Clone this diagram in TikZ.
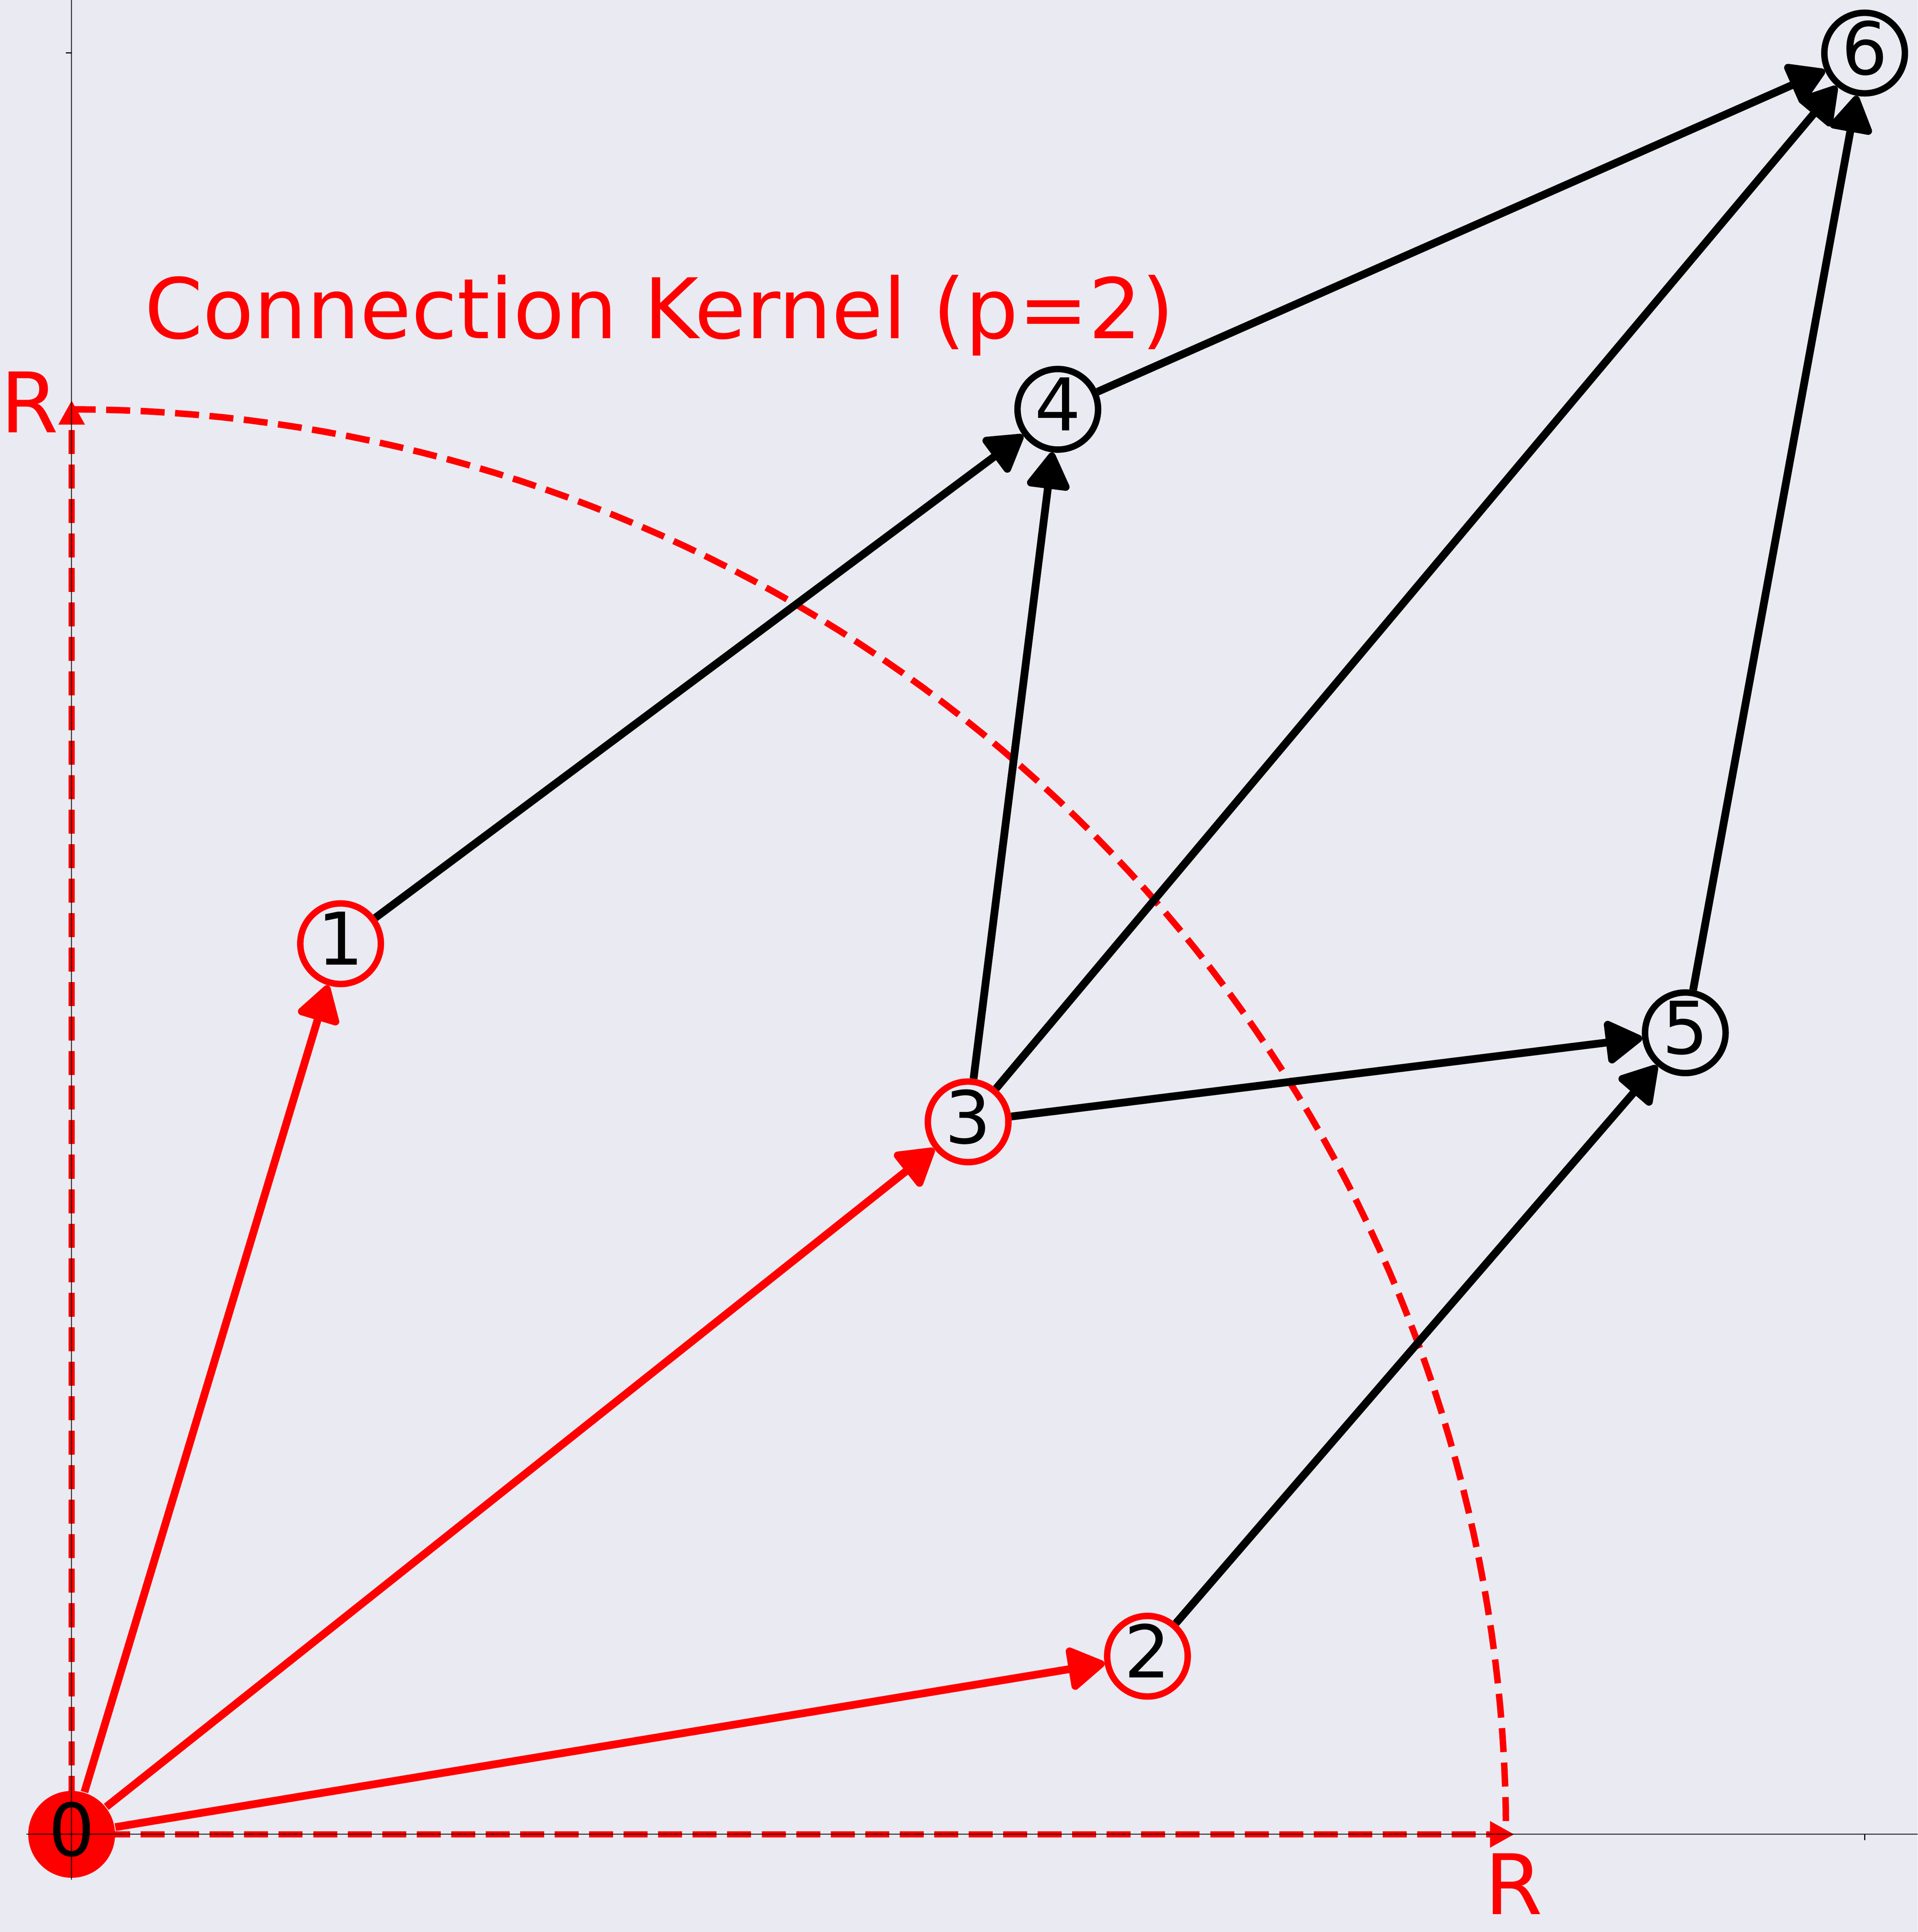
\documentclass[tikz,border=0pt]{standalone}
\usepackage{fontspec}
\setmainfont{DejaVu Sans}
\usetikzlibrary{arrows.meta}
\definecolor{bggray}{RGB}{234,234,242}
\begin{document}
\begin{tikzpicture}[x=14.557cm, y=14.459cm,
        vertex/.style={circle, draw, line width=1.49pt, fill=bggray, minimum size=0.654cm,
            inner sep=0pt, font=\fontsize{16.8}{16.8}\selectfont, text depth=2.5pt},
        near/.style={vertex, draw=red},
        link/.style={line width=1.8pt, -{Triangle[length=9.3pt, width=10.8pt, round]}},
        kernel/.style={red, line width=1.5pt, dash pattern=on 5.55pt off 2.42pt},
        bigred/.style={red, inner sep=0pt, font=\fontsize{19.3}{19.3}\selectfont},
        spine/.style={black, opacity=0.7, line width=0.27pt}]
            \fill[bggray] (-0.03997, -0.05481) rectangle (1.0296, 1.0298);
            \useasboundingbox (-0.03997, -0.05481) rectangle (1.0296, 1.0298);

            \coordinate (xR) at (0.8047, 0);
            \coordinate (yR) at (0, 0.8051);

            % kernel of radius R
            \draw[kernel] plot[domain=90:0, samples=90] ({0.8*cos(\x)}, {0.8*sin(\x)});
            \node[circle, fill=red, minimum size=0.704cm, inner sep=0pt,
                font=\fontsize{16.8}{16.8}\selectfont, text depth=2.5pt] (n0) at (0, 0) {0};
            \draw[kernel, -{Triangle[length=5.64pt, width=5.73pt, sharp]}] (n0.center) -- (xR);
            \draw[kernel, -{Triangle[length=5.64pt, width=5.73pt, sharp]}] (n0.center) -- (yR);
            \node[circle, fill=red, minimum size=0.704cm, inner sep=0pt,
                font=\fontsize{16.8}{16.8}\selectfont, text depth=2.5pt] at (n0) {0};

            \node[near] (n1) at (0.15, 0.5) {1};
            \node[near] (n2) at (0.6, 0.1) {2};
            \node[near] (n3) at (0.5, 0.4) {3};
            \node[vertex] (n4) at (0.55, 0.8) {4};
            \node[vertex] (n5) at (0.9, 0.45) {5};
            \node[vertex] (n6) at (1, 1) {6};

            \draw[link, red] (n0) -- (n1);
            \draw[link, red] (n0) -- (n2);
            \draw[link, red] (n0) -- (n3);

            \draw[link] (n1) -- (n4);
            \draw[link] (n3) -- (n4);
            \draw[link] (n3) -- (n5);
            \draw[link] (n3) -- (n6);
            \draw[link] (n2) -- (n5);
            \draw[link] (n4) -- (n6);
            \draw[link] (n5) -- (n6);

            % axes through the origin
            \draw[spine] (-0.0253, 0) -- (1.0296, 0);
            \draw[spine] (0, -0.0254) -- (0, 1.0298);
            \draw[line width=0.27pt] (1, 0) -- ++(0, -1.34pt);
            \draw[line width=0.27pt] (0, 1) -- ++(-1.34pt, 0);

            \node[bigred, anchor=base] (rx) at (0.8043, -0.0450) {R};
            \node[bigred, anchor=base] (ry) at (-0.0235, 0.7869) {R};
            \node[bigred, anchor=base west] (title) at (0.0402, 0.8397) {Connection Kernel (p=2)};
        \end{tikzpicture}
\end{document}
